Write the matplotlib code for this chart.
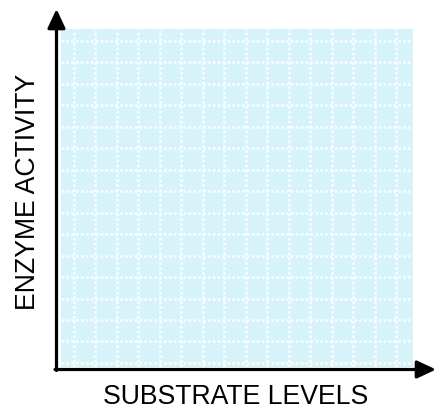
import numpy as np
import matplotlib
matplotlib.use("Agg")
import matplotlib.pyplot as plt

# axis labels and grid layout (chart is an empty template)
x_label = "SUBSTRATE LEVELS"
y_label = "ENZYME ACTIVITY"
x_grid = np.arange(16)
y_grid = np.arange(16)

W, H = 441, 412
fig = plt.figure(figsize=(W / 100, H / 100), dpi=100)

# shaded plot area (pixel box of the reference)
left, right, top, bottom = 61, 413, 29, 367
ax = fig.add_axes([left / W, (H - bottom) / H, (right - left) / W, (bottom - top) / H])
ax.set_facecolor("#d7f3fa")
ax.set_xlim(-0.6, 15.77)
ax.set_ylim(-0.19, 15.56)
for x in x_grid:
    ax.axvline(x, color="white", lw=1.9, ls=(0, (1, 0.85)), alpha=0.85)
for y in y_grid:
    ax.axhline(y, color="white", lw=1.9, ls=(0, (1, 0.85)), alpha=0.85)
ax.set_xticks([])
ax.set_yticks([])
for s in ax.spines.values():
    s.set_visible(False)

# axis arrows in figure pixels
arrow = dict(arrowstyle="-|>,head_length=1.15,head_width=0.54", color="black",
             lw=2.3, mutation_scale=10, shrinkA=0, shrinkB=0)
fig.add_artist(plt.Annotation("", xy=(56.5, H - 9), xytext=(56.5, H - 370.5),
                              xycoords="figure pixels", textcoords="figure pixels",
                              arrowprops=arrow))
fig.add_artist(plt.Annotation("", xy=(436, H - 369.5), xytext=(55, H - 369.5),
                              xycoords="figure pixels", textcoords="figure pixels",
                              arrowprops=arrow))

fig.text(235.5 / W, (H - 397.5) / H, x_label, ha="center", va="center",
         fontsize=19.2, family="Liberation Sans")
fig.text(28 / W, (H - 191.5) / H, y_label, ha="center", va="center", rotation=90,
         fontsize=19.2, family="Liberation Sans")

fig.savefig("out.png", dpi=100)
